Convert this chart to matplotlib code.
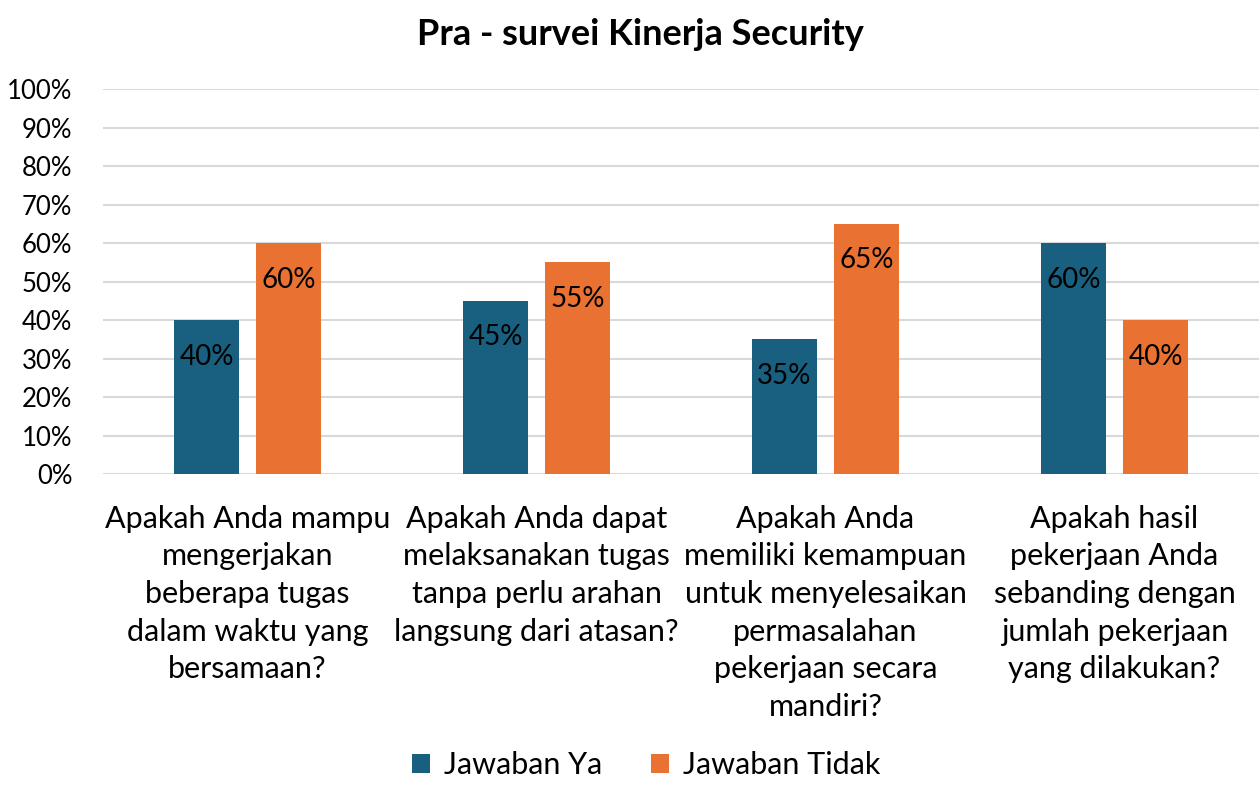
import matplotlib.pyplot as plt
import numpy as np

plt.rcParams['font.family'] = ['Lato', 'DejaVu Sans']

categories = [
    'Apakah Anda mampu\nmengerjakan\nbeberapa tugas\ndalam waktu yang\nbersamaan?',
    'Apakah Anda dapat\nmelaksanakan tugas\ntanpa perlu arahan\nlangsung dari atasan?',
    'Apakah Anda\nmemiliki kemampuan\nuntuk menyelesaikan\npermasalahan\npekerjaan secara\nmandiri?',
    'Apakah hasil\npekerjaan Anda\nsebanding dengan\njumlah pekerjaan\nyang dilakukan?',
]
jawaban_ya = [40, 45, 35, 60]
jawaban_tidak = [60, 55, 65, 40]
y_ticks = list(range(0, 101, 10))

blue = '#185F80'
orange = '#E97132'

fig = plt.figure(figsize=(12.59, 7.85), dpi=100)
ax = fig.add_axes([0.0818, 0.396, 0.9182, 0.4906])

x = np.arange(len(categories))
w = 0.225
off = 0.142

bars_ya = ax.bar(x - off, jawaban_ya, w, color=blue, label='Jawaban Ya', zorder=3)
bars_tidak = ax.bar(x + off, jawaban_tidak, w, color=orange, label='Jawaban Tidak', zorder=3)

for bars in (bars_ya, bars_tidak):
    for b in bars:
        h = b.get_height()
        ax.annotate(f'{h:.0f}%', (b.get_x() + b.get_width() / 2, h),
                    xytext=(0, -17), textcoords='offset points',
                    ha='center', va='top', fontsize=20, color='black', zorder=4)

ax.set_xlim(-0.5, len(categories) - 0.5)
ax.set_ylim(0, 100)
ax.set_yticks(y_ticks)
ax.set_yticklabels([f'{t}%' for t in y_ticks], fontsize=18.5)
ax.set_xticks(x)
ax.set_xticklabels(categories, fontsize=22, linespacing=1.42, va='top')
ax.tick_params(axis='both', length=0)
ax.tick_params(axis='x', pad=22)
ax.tick_params(axis='y', pad=22)
ax.grid(axis='y', color='#D9D9D9', linewidth=1.5, zorder=0)
for s in ax.spines.values():
    s.set_visible(False)

fig.suptitle('Pra - survei Kinerja Security', fontsize=26, fontweight='bold',
             x=0.509, y=0.977)

fig.legend(loc='lower center', ncol=2, frameon=False, fontsize=22,
           handlelength=0.6, handleheight=0.6, columnspacing=1.6,
           handletextpad=0.45, bbox_to_anchor=(0.513, -0.028))

fig.savefig('out.png', dpi=100)
